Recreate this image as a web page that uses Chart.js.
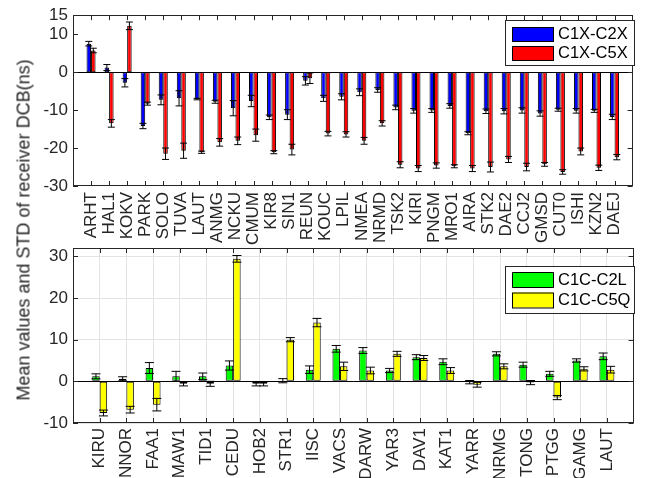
<!DOCTYPE html>
<html>
<head>
<meta charset="utf-8">
<script src="https://cdn.jsdelivr.net/npm/chart.js@4.4.1/dist/chart.umd.min.js"></script>
<style>
  html, body { margin: 0; padding: 0; background: #ffffff; }
  #wrap { position: relative; width: 659px; height: 478px; overflow: hidden; background: #fff; }
  canvas { position: absolute; left: 0; top: 0; }
  #ylab { position: absolute; left: 24px; top: 229.5px; transform: translate(-50%, -50%) rotate(-90deg);
          font: 18px "Liberation Sans", Arial, sans-serif; color: #262626; white-space: nowrap; }
</style>
</head>
<body>
<div id="wrap">
  <canvas id="top" width="659" height="478"></canvas>
  <canvas id="bot" width="659" height="478"></canvas>
  <div id="ylab">Mean values and STD of receiver DCB(ns)</div>
</div>
<script>
// ---------- DATA ----------
const topStations = ['ARHT','HAL1','KOKV','PARK','SOLO','TUVA','LAUT','ANMG','NCKU','CMUM','KIR8','SIN1','REUN','KOUC','LPIL','NMEA','NRMD','TSK2','KIRI','PNGM','MRO1','AIRA','STK2','DAE2','CCJ2','GMSD','CUT0','ISHI','KZN2','DAEJ'];
const c1xC2xMean = [7.5, 1.2, -2.8, -14.2, -7.3, -6.9, -7.1, -7.8, -9.5, -7.6, -11.9, -11.2, -2.3, -6.9, -6.5, -5.3, -4.7, -9.3, -10.2, -10.1, -8.9, -16.1, -10.3, -10.3, -10.1, -10.9, -9.9, -10.2, -10.2, -11.8];
const c1xC2xStd  = [0.6, 0.8, 1.1, 0.7, 1.3, 2.0, 0.2, 0.4, 2.0, 1.5, 0.6, 1.3, 1.1, 0.8, 0.8, 0.9, 0.6, 0.6, 0.6, 0.5, 0.6, 0.4, 0.6, 0.7, 0.7, 0.7, 0.4, 0.6, 0.4, 0.7];
const c1xC5xMean = [5.7, -13.5, 12.2, -8.3, -21.5, -20.7, -21.1, -18.5, -18.1, -16.6, -21.1, -20.4, -1.6, -16.2, -16.4, -18.1, -13.5, -24.4, -25.4, -24.6, -24.8, -25.4, -25.0, -23.0, -25.0, -24.3, -26.3, -20.9, -25.2, -22.4];
const c1xC5xStd  = [0.6, 1.0, 1.0, 0.4, 1.5, 2.0, 0.3, 1.0, 1.0, 1.6, 0.4, 1.4, 1.4, 0.6, 0.7, 0.9, 0.7, 0.8, 0.8, 0.7, 0.4, 0.8, 1.3, 0.8, 1.0, 0.5, 0.6, 0.9, 0.7, 0.7];
const topYTicks = [-30, -20, -10, 0, 10, 15];

const botStations = ['KIRU','NNOR','FAA1','MAW1','TID1','CEDU','HOB2','STR1','IISC','VACS','DARW','YAR3','DAV1','KAT1','YARR','NRMG','TONG','PTGG','GAMG','LAUT'];
const c1cC2lMean = [1.2, 0.6, 3.2, 1.2, 1.2, 3.8, -0.6, 0.15, 2.8, 7.8, 7.4, 2.6, 5.8, 4.7, -0.2, 6.6, 4.0, 1.8, 5.0, 6.0];
const c1cC2lStd  = [0.6, 0.5, 1.3, 1.2, 0.8, 1.1, 0.5, 0.5, 0.9, 0.8, 0.7, 0.5, 0.6, 0.7, 0.4, 0.5, 0.6, 0.6, 0.4, 0.8];
const c1cC5qMean = [-7.6, -6.8, -5.6, -0.6, -0.6, 29.4, -0.6, 10.0, 14.1, 3.6, 2.6, 6.6, 5.6, 2.6, -0.8, 3.6, -0.3, -3.9, 3.0, 2.8];
const c1cC5qStd  = [0.7, 0.8, 1.5, 0.5, 0.6, 0.8, 0.5, 0.5, 1.0, 1.0, 0.8, 0.6, 0.6, 0.7, 0.6, 0.6, 0.5, 0.5, 0.5, 0.8];
const botYTicks = [-10, 0, 10, 20, 30];

// ---------- HELPERS ----------
const FONT = '"Liberation Sans", Arial, sans-serif';
const TXT = '#262626';
const pad = a => [null, ...a, null];
const padL = a => ['', ...a, ''];

const framePlugin = {
  id: 'frame',
  afterDatasetsDraw(chart, args, o) {
    const { ctx, chartArea: a } = chart;
    const x = chart.scales.x, y = chart.scales.y;
    ctx.save();
    // zero baseline
    const y0 = Math.round(y.getPixelForValue(0)) + 0.5;
    ctx.strokeStyle = '#000'; ctx.lineWidth = 1;
    ctx.beginPath(); ctx.moveTo(a.left, y0); ctx.lineTo(a.right, y0); ctx.stroke();
    // error bars
    chart.data.datasets.forEach((ds, di) => {
      const meta = chart.getDatasetMeta(di);
      meta.data.forEach((bar, i) => {
        const m = ds.data[i];
        if (m === null || m === undefined) return;
        const s = ds.std[i];
        const yt = y.getPixelForValue(m + s), yb = y.getPixelForValue(m - s);
        const cx = bar.x;
        ctx.strokeStyle = '#000'; ctx.lineWidth = 1;
        ctx.beginPath();
        ctx.moveTo(cx, yt); ctx.lineTo(cx, yb);
        ctx.moveTo(cx - o.cap, yt); ctx.lineTo(cx + o.cap, yt);
        ctx.moveTo(cx - o.cap, yb); ctx.lineTo(cx + o.cap, yb);
        ctx.stroke();
      });
    });
    // frame
    ctx.strokeStyle = TXT; ctx.lineWidth = 1;
    ctx.strokeRect(Math.round(a.left) + 0.5, Math.round(a.top) + 0.5, Math.round(a.right - a.left) - 1, Math.round(a.bottom - a.top) - 1);
    // inward ticks
    const tl = 5;
    ctx.beginPath();
    const n = chart.data.labels.length;
    for (let i = 1; i < n - 1; i++) {
      const px = Math.round(x.getPixelForValue(i)) + 0.5;
      ctx.moveTo(px, a.bottom); ctx.lineTo(px, a.bottom - tl);
      ctx.moveTo(px, a.top); ctx.lineTo(px, a.top + tl);
    }
    o.yTicks.forEach(v => {
      const py = Math.round(y.getPixelForValue(v)) + 0.5;
      ctx.moveTo(a.left, py); ctx.lineTo(a.left + tl, py);
      ctx.moveTo(a.right, py); ctx.lineTo(a.right - tl, py);
    });
    ctx.stroke();
    // legend
    const L = o.legend;
    ctx.fillStyle = '#fff';
    ctx.fillRect(L.x, L.y, L.w, L.h);
    ctx.strokeStyle = TXT;
    ctx.strokeRect(L.x + 0.5, L.y + 0.5, L.w, L.h);
    ctx.font = L.font + 'px ' + FONT;
    ctx.textBaseline = 'middle'; ctx.textAlign = 'left';
    chart.data.datasets.forEach((ds, di) => {
      const sy = L.y + L.first + di * L.step;
      ctx.fillStyle = ds.backgroundColor;
      ctx.fillRect(L.x + 7, sy, L.sw, L.sh);
      ctx.strokeStyle = '#000';
      ctx.strokeRect(L.x + 7.5, sy + 0.5, L.sw, L.sh);
      ctx.fillStyle = '#000';
      ctx.fillText(ds.label, L.x + 7 + L.sw + 5, sy + L.sh / 2 + 0.5);
    });
    ctx.restore();
  }
};

function makeChart(id, labels, sets, yMin, yMax, yTicks, o) {
  return new Chart(document.getElementById(id), {
    type: 'bar',
    data: {
      labels: padL(labels),
      datasets: sets.map(s => ({
        label: s.label,
        data: pad(s.mean),
        std: pad(s.std),
        backgroundColor: s.color,
        borderColor: '#000',
        borderWidth: 1,
        borderSkipped: false,
        categoryPercentage: o.catPct,
        barPercentage: 1.0
      }))
    },
    options: {
      responsive: false,
      animation: false,
      devicePixelRatio: 1,
      layout: { autoPadding: false, padding: { top: o.top, right: 7, left: 0, bottom: 0 } },
      plugins: { legend: { display: false }, tooltip: { enabled: false },
                 frame: { cap: o.cap, yTicks: yTicks, legend: o.legend } },
      scales: {
        x: {
          type: 'category',
          offset: false,
          grid: { display: o.grid, offset: false, color: '#e3e3e3', drawTicks: false },
          border: { display: false },
          ticks: { autoSkip: false, minRotation: 90, maxRotation: 90, padding: o.xpad,
                   color: TXT, font: { family: FONT, size: 17 } },
          afterFit: s => { s.height = 478 - o.bottom; }
        },
        y: {
          min: yMin, max: yMax,
          grid: { display: o.grid, color: '#e3e3e3', drawTicks: false },
          border: { display: false },
          afterBuildTicks: s => { s.ticks = yTicks.map(v => ({ value: v })); },
          ticks: { padding: 5, color: TXT, font: { family: FONT, size: 17 } },
          afterFit: s => { s.width = 73; }
        }
      }
    },
    plugins: [framePlugin]
  });
}

makeChart('top', topStations, [
  { label: 'C1X-C2X', mean: c1xC2xMean, std: c1xC2xStd, color: '#0000ff' },
  { label: 'C1X-C5X', mean: c1xC5xMean, std: c1xC5xStd, color: '#ff0000' }
], -30, 15, topYTicks, {
  top: 13, bottom: 186, catPct: 0.5, cap: 3.5, grid: false, xpad: 6,
  legend: { x: 505, y: 20, w: 129, h: 45, first: 7, step: 19, sw: 41, sh: 14, font: 16.5 }
});

makeChart('bot', botStations, [
  { label: 'C1C-C2L', mean: c1cC2lMean, std: c1cC2lStd, color: '#00ff00' },
  { label: 'C1C-C5Q', mean: c1cC5qMean, std: c1cC5qStd, color: '#ffff00' }
], -10, 32, botYTicks, {
  top: 248, bottom: 423, catPct: 0.56, cap: 4.5, grid: true, xpad: 5,
  legend: { x: 505, y: 266, w: 129, h: 47, first: 6, step: 20.5, sw: 41, sh: 15, font: 16.5 }
});
</script>
</body>
</html>
